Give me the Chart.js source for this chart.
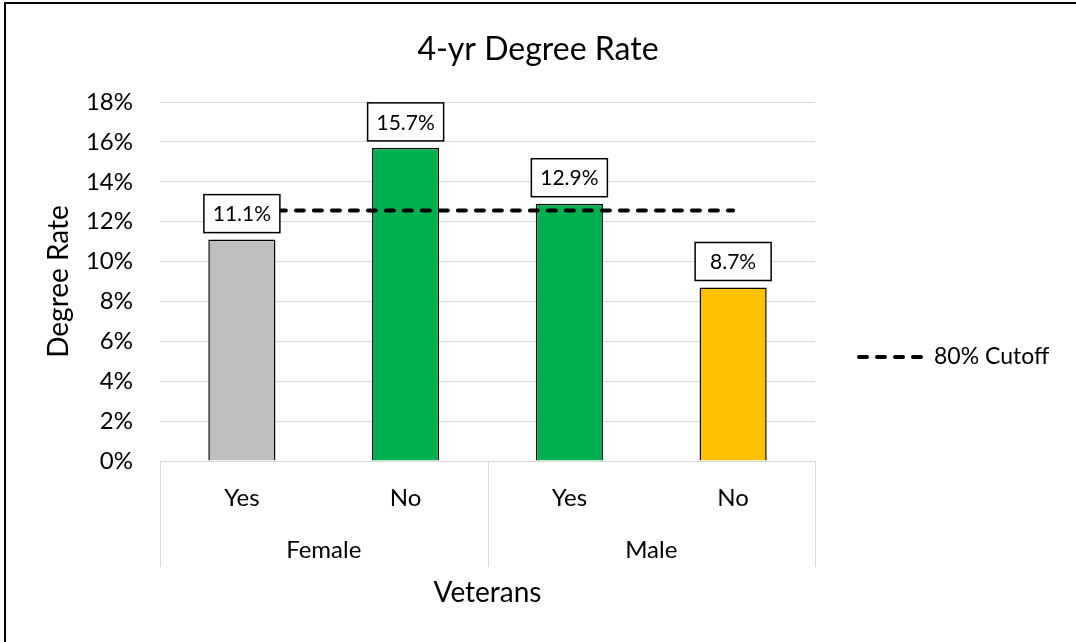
<!DOCTYPE html>
<html>
<head>
<meta charset="utf-8">
<script src="https://cdn.jsdelivr.net/npm/chart.js@4"></script>
<style>
  body { margin: 0; background: #fff; }
  #wrap { width: 1076px; height: 642px; }
</style>
</head>
<body>
<div id="wrap"><canvas id="chart" width="1076" height="642"></canvas></div>
<script>
// 軸ラベルとデータ
const categories = ["Yes", "No", "Yes", "No"];
const groups = ["Female", "Male"];
const degreeRates = [11.1, 15.7, 12.9, 8.7];
const cutoffRates = [12.56, 12.56, 12.56, 12.56];
const yTickValues = [0, 2, 4, 6, 8, 10, 12, 14, 16, 18];

const barColors = ["#BFBFBF", "#00B050", "#00B050", "#FFC000"];
const FONT = "Lato";
const TITLE = "4-yr Degree Rate";

// 外枠・タイトル・データラベル・グループ軸・凡例を描くプラグイン
const decorations = {
  id: "decorations",
  beforeDraw(chart) {
    const ctx = chart.ctx;
    ctx.save();
    ctx.fillStyle = "#fff";
    ctx.fillRect(0, 0, chart.width, chart.height);
    ctx.restore();
  },
  afterDatasetsDraw(chart) {
    const ctx = chart.ctx;
    const meta = chart.getDatasetMeta(0);
    ctx.save();
    ctx.font = "21px " + FONT;
    ctx.textAlign = "center";
    ctx.textBaseline = "middle";
    meta.data.forEach((bar, i) => {
      const w = 76, h = 38;
      const bottom = bar.y - 7;
      ctx.fillStyle = "#fff";
      ctx.fillRect(bar.x - w / 2, bottom - h, w, h);
      ctx.strokeStyle = "#000";
      ctx.lineWidth = 1.5;
      ctx.strokeRect(bar.x - w / 2, bottom - h, w, h);
      ctx.fillStyle = "#000";
      ctx.fillText(degreeRates[i].toFixed(1) + "%", bar.x, bottom - h / 2 + 1);
    });
    ctx.restore();
  },
  afterDraw(chart) {
    const ctx = chart.ctx;
    const x = chart.scales.x;
    const area = chart.chartArea;
    ctx.save();

    // タイトル(キャンバス全体の中央)
    ctx.fillStyle = "#000";
    ctx.font = "32px " + FONT;
    ctx.textAlign = "center";
    ctx.textBaseline = "middle";
    ctx.fillText(TITLE, chart.width / 2, 50);

    // グループ区切り線
    const p = (i) => x.getPixelForValue(i);
    const seps = [area.left, (p(1) + p(2)) / 2, area.right];
    ctx.strokeStyle = "#D9D9D9";
    ctx.lineWidth = 1;
    seps.forEach((sx) => {
      ctx.beginPath();
      ctx.moveTo(Math.round(sx) + 0.5, area.bottom);
      ctx.lineTo(Math.round(sx) + 0.5, 567);
      ctx.stroke();
    });

    // グループラベル
    ctx.font = "24px " + FONT;
    groups.forEach((g, i) => {
      ctx.fillText(g, (p(i * 2) + p(i * 2 + 1)) / 2, 550);
    });

    // 凡例
    const ly = 357;
    ctx.strokeStyle = "#000";
    ctx.lineWidth = 4;
    ctx.lineCap = "round";
    ctx.setLineDash([8, 10]);
    ctx.beginPath();
    ctx.moveTo(859, ly);
    ctx.lineTo(925, ly);
    ctx.stroke();
    ctx.setLineDash([]);
    ctx.textAlign = "left";
    ctx.font = "23px " + FONT;
    ctx.fillText(chart.data.datasets[1].label, 934, ly);

    // 外枠
    ctx.lineWidth = 2;
    ctx.lineCap = "butt";
    ctx.strokeRect(5, 3, chart.width + 10, chart.height + 10);
    ctx.restore();
  }
};

new Chart(document.getElementById("chart"), {
  data: {
    labels: categories,
    datasets: [
      {
        type: "bar",
        label: "Degree Rate",
        data: degreeRates,
        backgroundColor: barColors,
        borderColor: "#000",
        borderWidth: 1.5,
        barPercentage: 0.41,
        categoryPercentage: 1,
        order: 1
      },
      {
        type: "line",
        label: "80% Cutoff",
        data: cutoffRates,
        borderColor: "#000",
        borderWidth: 4,
        borderDash: [8, 10],
        borderCapStyle: "round",
        pointRadius: 0,
        fill: false,
        order: 0
      }
    ]
  },
  options: {
    responsive: false,
    animation: false,
    layout: { padding: { top: 102, left: 30, right: 261, bottom: 32 } },
    plugins: {
      legend: { display: false },
      tooltip: { enabled: false },
      title: { display: false }
    },
    scales: {
      x: {
        grid: { display: false },
        border: { display: true, color: "#D9D9D9", width: 1 },
        ticks: { color: "#000", font: { family: FONT, size: 24 }, padding: 15 },
        title: {
          display: true,
          text: "Veterans",
          color: "#000",
          font: { family: FONT, size: 28 },
          padding: { top: 0, bottom: 0 }
        },
        afterFit(scale) { scale.height = 149; }
      },
      y: {
        min: 0,
        max: 18,
        afterBuildTicks(scale) { scale.ticks = yTickValues.map((v) => ({ value: v })); },
        grid: { color: "#D9D9D9", drawTicks: false },
        border: { display: false },
        ticks: {
          color: "#000",
          font: { family: FONT, size: 24 },
          padding: 27,
          callback: (v) => v + "%"
        },
        title: {
          display: true,
          text: "Degree Rate",
          color: "#000",
          font: { family: FONT, size: 28 },
          padding: { top: 12 }
        },
        afterFit(scale) { scale.width = 130; }
      }
    }
  },
  plugins: [decorations]
});
</script>
</body>
</html>
